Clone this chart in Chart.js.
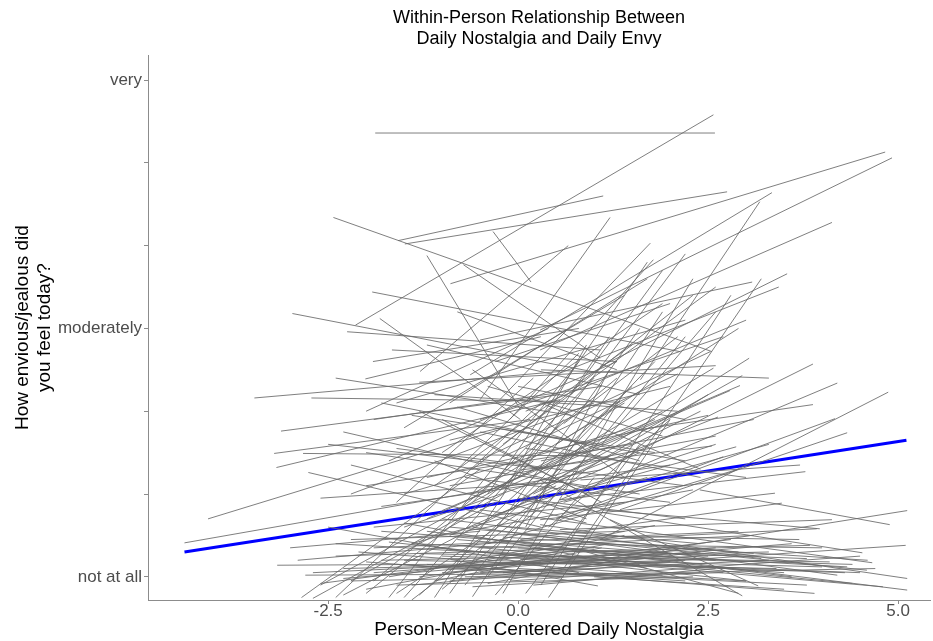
<!DOCTYPE html>
<html><head><meta charset="utf-8">
<script src="https://cdn.jsdelivr.net/npm/chart.js@4/dist/chart.umd.min.js"></script>
<style>html,body{margin:0;padding:0;background:#fff}</style>
</head><body>
<canvas id="c" width="933" height="641"></canvas>
<script>
const xTicks = [-2.5, 0, 2.5, 5];
const yTicks = [1, 2, 3, 4, 5, 6, 7];
const yTickLabels = {1: 'not at all', 4: 'moderately', 7: 'very'};

// overall (fixed-effect) fit: [x, y] at both ends
const overallFit = [[-4.39, 1.30], [5.11, 2.65]];

// person-level fits: [x1, y1, x2, y2]
const upperLines = [
 [-1.88,6.36,2.59,6.36],[-2.14,4.04,2.57,6.58],[-1.58,5.06,1.12,5.60],[-1.49,5.02,2.75,5.65],
 [-2.43,5.34,2.55,3.72],[-0.89,4.54,4.83,6.13],[0.29,3.98,4.92,6.06],[-0.63,3.44,3.34,5.64],
 [1.61,3.38,3.18,5.53],[0.29,3.74,4.13,5.28],[-0.33,5.17,0.17,4.56],[-1.20,4.88,0.03,3.02],
 [-0.72,4.77,1.08,3.64],[-1.92,4.44,2.13,3.72],[-2.97,4.18,1.08,3.46],[-2.25,3.96,1.08,3.74],
 [-1.82,4.12,0.03,2.90],[-1.29,3.48,0.66,5.00],[-0.50,3.14,1.21,5.34],[-0.24,3.14,1.74,5.03],
 [-0.11,2.90,1.78,4.83],[-0.50,3.86,3.08,4.56],[0.55,3.46,3.43,4.50],[1.08,3.54,3.54,4.66]
];
const upperMidLines = [
 [-1.0,2.5,1.9,4.3],[-0.6,2.3,2.3,4.4],[-0.2,2.6,2.6,4.5],[-1.5,2.8,1.4,4.4],
 [-0.9,3.1,1.7,4.6],[-0.5,2.9,2.7,3.9],[0.1,3.0,3.0,4.1],[-1.2,3.8,1.6,3.2],
 [-0.8,4.2,1.3,3.5],[-1.6,3.1,2.2,4.1],[-0.3,3.6,2.0,4.3],[0.3,3.5,3.3,3.4],
 [-2.0,3.0,0.4,4.0],[0.5,2.6,2.9,4.0],[-1.1,2.1,1.5,3.8],[0.7,3.2,1.9,4.7],
 [-0.4,2.0,1.7,4.8],[0.0,2.2,2.2,4.9],[1.1,2.6,2.6,4.2]
];
const midLines = [
 [-2.76,2.26,0.3,1.6],[-2.83,2.49,1.08,2.46],[-3.21,2.49,0.16,2.90],[-3.18,2.32,0.55,3.14],
 [-3.12,2.76,0.55,3.20],[-2.72,3.16,1.34,3.11],[-3.47,3.16,0.55,3.48],[-4.08,1.70,-0.24,2.78],
 [-4.39,1.41,1.08,2.29],[-1.66,3.74,1.3,3.6],[-1.91,3.60,0.8,4.0],[-2.01,3.39,0.3,3.9],
 [-2.3,2.75,1.0,2.05],[-2.0,2.1,1.5,2.6],[-1.8,1.85,2.0,2.35],[-1.6,2.55,2.2,2.1],
 [-1.4,2.95,1.8,2.50],[-1.2,2.20,2.5,2.95],[-1.0,1.80,1.8,2.90],[-0.9,2.65,2.0,3.30],
 [-0.8,3.05,1.6,2.40],[-0.6,2.00,1.4,3.10],[-0.5,2.75,2.4,2.20],[-0.3,1.75,2.6,2.60],
 [-0.2,2.45,2.1,3.45],[0.0,1.95,2.2,1.70],[0.1,2.55,3.0,2.20],[0.3,3.10,2.4,2.30],
 [-2.6,1.95,0.6,2.15],[-2.2,2.35,0.9,1.65],[-1.5,1.60,1.2,2.45],[-1.1,2.40,0.9,1.70],
 [-0.7,1.55,2.3,2.05],[0.5,1.70,2.7,2.45],[-1.9,2.90,1.1,3.30],[-2.4,3.40,0.7,2.95],
 [-1.3,3.35,2.6,3.55],[-0.4,3.30,1.9,2.70],[0.6,2.85,2.1,3.90],[0.9,2.30,2.5,3.20]
];
const centreLines = [
 [-1.5,2.0,1.5,2.8],[-1.2,1.7,1.9,3.0],[-0.9,1.5,1.6,2.5],[-0.7,2.2,2.0,1.9],[-0.5,1.6,1.5,3.3],
 [-0.3,2.8,2.2,2.4],[-0.1,1.8,1.8,3.6],[0.2,2.0,2.4,3.0],[0.4,1.6,2.0,2.9],[-1.7,2.4,1.3,3.6],
 [-1.3,3.0,0.9,2.0],[-1.0,2.9,1.1,1.9],[-0.8,2.3,0.8,3.7],[-0.6,1.9,1.0,3.4],[-0.2,2.0,0.9,3.8],
 [0.1,1.6,1.2,3.5],[-2.0,2.5,1.6,2.0],[-1.8,3.1,0.9,2.6],[-2.2,2.0,1.0,3.1],[-1.4,1.4,1.7,2.2],
 [-0.9,2.1,2.6,2.7],[0.3,2.4,3.1,2.9],[0.6,1.9,3.3,2.6],[-0.4,1.4,2.9,2.3],[-1.6,1.9,0.2,3.4],
 [-2.5,2.6,0.4,2.3],[-1.1,3.2,2.1,3.0],[-0.6,3.5,1.4,2.2],[0.0,3.3,2.2,2.9],[-1.9,1.6,1.4,1.9]
];
const rightFanLines = [
 [0.29,2.05,3.04,3.64],[1.08,2.29,3.88,3.57],[0.55,1.93,4.20,3.34],[1.61,2.78,3.88,3.08],
 [1.08,1.45,4.87,3.23],[0.55,1.69,4.17,2.91],[1.34,1.81,4.33,2.74],[0.82,2.17,3.71,2.35],
 [0.55,1.93,3.78,2.27],[0.29,1.69,3.38,2.01],[0.03,1.45,3.47,1.89],[1.08,1.21,5.12,1.80],
 [2.39,2.05,4.89,1.63],[1.08,1.81,3.97,1.58],[0.03,1.93,4.53,1.29],[-0.50,1.81,4.66,1.17],
 [0.03,1.51,4.59,1.08],[0.29,1.63,5.12,0.98],[-0.24,1.45,5.12,0.84],[1.21,1.69,3.16,0.89],
 [0.29,2.17,2.95,0.77],[-0.89,1.21,1.05,0.89],[0.29,1.33,4.33,1.12],[0.03,1.21,4.50,1.05],
 [0.55,1.57,4.13,1.69],[1.08,1.45,3.93,1.58],[0.16,1.29,3.84,1.38],[0.03,1.93,2.95,3.43],
 [0.29,2.29,2.92,3.31],[-0.24,2.05,2.79,3.25],[0.55,2.41,2.57,3.52],[0.82,2.05,2.87,2.57],
 [0.03,2.29,2.55,2.58],[-0.50,2.41,2.53,3.72],[0.55,2.17,2.63,2.93]
];
const steepLines = [
 [-2.85,0.75,-0.5,2.3],[-2.4,0.75,0.3,3.1],[-1.7,0.75,0.8,3.6],[-1.5,0.75,0.6,2.9],
 [-1.1,0.75,1.2,3.9],[-0.9,0.8,1.6,4.0],[-2.0,0.8,0.2,2.4],[-1.3,0.78,0.9,2.6],
 [-0.6,0.76,1.9,4.2],[-0.2,0.8,2.3,4.6],[-2.6,0.9,0.6,2.5],[-1.9,0.95,1.3,3.4],
 [0.3,0.9,2.8,4.4],[-0.4,1.0,2.2,3.9],[0.6,1.1,3.2,4.6],
 [-2.7,0.74,-0.2,2.0],[-2.3,0.78,0.5,2.1],[-1.6,0.8,0.4,2.0],[-1.0,0.85,0.9,2.3],[-0.7,0.9,1.3,3.1],
 [-0.3,0.78,1.0,2.2],[0.1,0.8,1.6,2.6],[-1.4,0.72,0.0,1.7],[-2.2,0.95,-0.3,1.9],[0.4,0.75,2.0,2.9]
];
const lowLines = [
 [-3.17,1.14,0.8,1.16],[-2.80,1.02,1.5,1.04],[-2.6,0.92,0.5,1.3],[-2.3,1.10,2.2,1.20],
 [-2.1,1.30,1.9,1.02],[-1.9,1.05,2.6,1.35],[-1.7,1.42,3.0,0.95],[-1.5,1.20,3.4,1.10],
 [-1.3,1.00,2.8,1.45],[-1.2,1.55,3.6,1.00],[-1.0,1.25,4.0,1.12],[-0.9,0.95,2.4,1.30],
 [-0.8,1.38,4.4,0.92],[-0.7,1.12,3.1,1.28],[-0.6,1.60,4.2,1.02],[-0.5,1.05,2.0,1.18],
 [-2.4,1.25,1.0,1.35],[-2.0,0.85,1.2,1.40],[-1.6,1.15,3.8,0.90],[-1.1,1.35,4.8,0.88],
 [-0.3,1.30,3.5,1.05],[-0.2,1.48,4.6,1.20],[0.0,1.10,3.0,0.95],[-2.9,1.20,0.2,1.45],
 [-1.8,1.55,2.5,1.25],[-1.4,0.90,1.6,1.15],[-0.4,0.92,2.2,1.35],[0.2,1.40,4.0,1.35],
 [-2.2,1.45,1.4,1.55],[-1.0,1.70,3.2,1.22],[-0.8,1.02,5.1,1.38],[0.4,1.05,3.9,0.80],
 [0.9,1.30,2.9,0.80],[-1.5,1.65,1.7,1.10],[-2.5,1.60,0.8,1.05],[-0.6,1.20,1.8,1.62],
 [1.0,1.00,3.5,0.85],[-1.9,1.35,2.9,1.55],[-3.0,1.35,-0.5,1.55],[-0.1,0.95,4.5,1.25],
 [-2.7,1.05,1.9,1.25],[-2.2,0.95,2.7,1.05],[-1.8,1.20,3.3,1.30],[-1.6,0.90,2.3,1.00],[-1.3,1.28,4.1,1.18],
 [-1.0,1.05,3.6,1.40],[-0.8,1.45,2.6,1.20],[-0.6,0.88,2.4,1.05],[-0.4,1.20,4.3,1.05],[-0.2,1.05,3.3,1.20],
 [0.0,1.35,3.8,1.22],[0.2,0.90,2.6,1.10],[-2.4,1.40,0.9,1.22],[-1.7,1.00,1.4,1.50],[-1.2,1.15,2.2,0.95],
 [-0.9,1.60,2.9,1.30],[-0.5,1.35,3.1,1.50],[-0.3,1.62,2.4,1.40],[0.5,1.25,4.4,1.15],[-2.0,1.18,0.6,1.00],
 [-1.4,1.40,2.0,1.28],[-0.7,1.00,4.7,1.10],[0.7,1.50,3.7,1.45],[-2.3,0.98,0.3,1.18],[-1.1,0.95,1.1,1.35]
];

const allLines = [...upperLines, ...upperMidLines, ...midLines, ...centreLines, ...rightFanLines, ...steepLines, ...lowLines];

const FONT = "'Liberation Sans', Arial, sans-serif";
const datasets = allLines.map(s => ({
  data: [{x: s[0], y: s[1]}, {x: s[2], y: s[3]}],
  borderColor: 'rgba(105,105,105,0.85)', borderWidth: 1,
  pointRadius: 0, showLine: true, fill: false
}));
datasets.push({
  data: overallFit.map(p => ({x: p[0], y: p[1]})),
  borderColor: '#0000ff', borderWidth: 3, pointRadius: 0, showLine: true, fill: false
});

const axisColor = '#8c8c8c';
new Chart(document.getElementById('c').getContext('2d'), {
  type: 'scatter',
  data: {datasets},
  options: {
    responsive: false, animation: false, devicePixelRatio: 1,
    layout: {padding: {left: 0, right: 3, top: 0, bottom: 0}},
    plugins: {
      legend: {display: false}, tooltip: {enabled: false},
      title: {display: true, fullSize: false,
        text: ['Within-Person Relationship Between', 'Daily Nostalgia and Daily Envy'],
        font: {family: FONT, size: 18, weight: 'normal', lineHeight: 1.2}, color: '#000',
        padding: {top: 7, bottom: 5}}
    },
    scales: {
      x: {type: 'linear', min: -4.87, max: 5.42,
        afterBuildTicks: s => { s.ticks = xTicks.map(v => ({value: v})); },
        afterFit: s => { s.height = 41; },
        ticks: {callback: v => Number(v).toFixed(1), font: {family: FONT, size: 17}, color: '#4d4d4d', padding: -3, maxRotation: 0, autoSkip: false},
        grid: {display: true, drawOnChartArea: false, drawTicks: true, tickLength: 4, color: axisColor},
        border: {display: true, color: axisColor, width: 1},
        title: {display: true, text: 'Person-Mean Centered Daily Nostalgia', font: {family: FONT, size: 19}, color: '#000', padding: {top: -3, bottom: 0}}
      },
      y: {type: 'linear', min: 0.72, max: 7.3,
        afterBuildTicks: s => { s.ticks = yTicks.map(v => ({value: v})); },
        afterFit: s => { s.width = 148; },
        ticks: {callback: v => yTickLabels[v] || '', font: {family: FONT, size: 17}, color: '#4d4d4d', padding: 2, autoSkip: false},
        grid: {display: true, drawOnChartArea: false, drawTicks: true, tickLength: 4, color: axisColor},
        border: {display: true, color: axisColor, width: 1},
        title: {display: true, text: ['How envious/jealous did', 'you feel today?'], font: {family: FONT, size: 19, lineHeight: 1.15}, color: '#000', padding: {top: 12, bottom: 0}}
      }
    }
  }
});
</script>
</body></html>
